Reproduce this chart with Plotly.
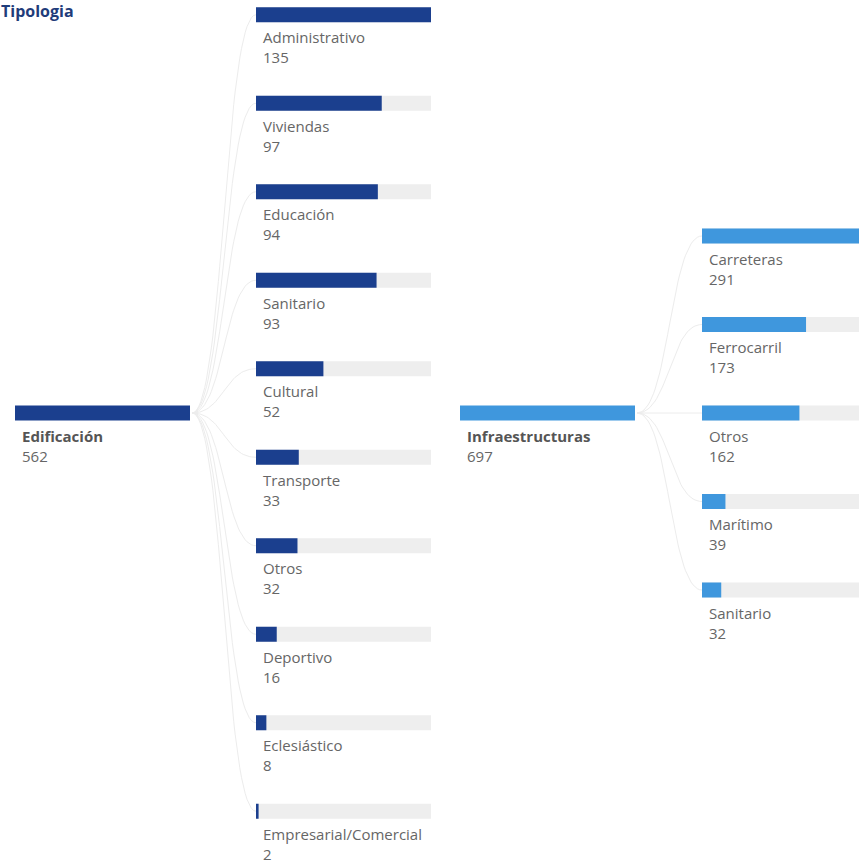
import numpy as np
import plotly.graph_objects as go

# ---- data ----
title_text = "Tipologia"
roots = ["Edificación", "Infraestructuras"]
root_values = [562, 697]
edif_cats = ["Administrativo", "Viviendas", "Educación", "Sanitario", "Cultural",
             "Transporte", "Otros", "Deportivo", "Eclesiástico", "Empresarial/Comercial"]
edif_vals = [135, 97, 94, 93, 52, 33, 32, 16, 8, 2]
infra_cats = ["Carreteras", "Ferrocarril", "Otros", "Marítimo", "Sanitario"]
infra_vals = [291, 173, 162, 39, 32]

# ---- layout constants ----
W, H = 859, 864
BAR_LEN = 175
BAR_H = 15
ROW = 88.5
ROOT_TOP = 405.5
ROOT_X = [15, 460]
CHILD_X = [256, 702]
COLORS = ["#1B3F8E", "#3F97DD"]
TRACK = "#EEEEEE"
TEXT = "#666666"
FONT = "Segoe UI, Open Sans, sans-serif"
FS = 15

fig = go.Figure()
annotations = []

trees = [(roots[0], root_values[0], edif_cats, edif_vals),
         (roots[1], root_values[1], infra_cats, infra_vals)]

for t, (rname, rval, cats, vals) in enumerate(trees):
    color = COLORS[t]
    rx, cx = ROOT_X[t], CHILD_X[t]
    n = len(cats)
    root_c = ROOT_TOP + BAR_H / 2
    child_tops = [ROOT_TOP + (i - (n - 1) / 2) * ROW for i in range(n)]
    child_c = [y + BAR_H / 2 for y in child_tops]

    # connectors (cubic bezier)
    xs, ys = [], []
    s = np.linspace(0, 1, 40)
    x0, x3 = rx + BAR_LEN + 2, cx
    for yc in child_c:
        p0 = np.array([x0, root_c]); p1 = np.array([(x0 + x3) / 2, root_c])
        p2 = np.array([(x0 + x3) / 2, yc]); p3 = np.array([x3, yc])
        pts = ((1 - s) ** 3)[:, None] * p0 + (3 * (1 - s) ** 2 * s)[:, None] * p1 \
            + (3 * (1 - s) * s ** 2)[:, None] * p2 + (s ** 3)[:, None] * p3
        xs += list(pts[:, 0]) + [None]
        ys += list(pts[:, 1]) + [None]
    fig.add_trace(go.Scatter(x=xs, y=ys, mode="lines",
                             line=dict(color="#ECECEC", width=1),
                             hoverinfo="skip", showlegend=False))

    # root bar
    fig.add_trace(go.Bar(y=[root_c], x=[BAR_LEN * rval / rval], base=[rx],
                         orientation="h", width=BAR_H, marker_color=color,
                         marker_line_width=0, showlegend=False,
                         hovertemplate=f"{rname}: {rval}<extra></extra>"))
    annotations.append(dict(x=rx + 5.5, y=root_c + 33, align="left",
                            text=f"<b><span style='color:#555555'>{rname}</span></b><br>{rval}",
                            font=dict(size=FS, color=TEXT, family=FONT)))

    # child tracks + bars
    m = max(vals)
    fig.add_trace(go.Bar(y=child_c, x=[BAR_LEN] * n, base=[cx] * n,
                         orientation="h", width=BAR_H, marker_color=TRACK,
                         marker_line_width=0, showlegend=False, hoverinfo="skip"))
    fig.add_trace(go.Bar(y=child_c, x=[BAR_LEN * v / m for v in vals], base=[cx] * n,
                         orientation="h", width=BAR_H, marker_color=color,
                         marker_line_width=0, showlegend=False,
                         customdata=cats,
                         hovertemplate="%{customdata}: %{x}<extra></extra>"))
    for c, v, yc in zip(cats, vals, child_c):
        annotations.append(dict(x=cx + 5.5, y=yc + 32.5, align="left",
                                text=f"{c}<br>{v}",
                                font=dict(size=FS, color=TEXT, family=FONT)))

for a in annotations:
    a.update(xref="x", yref="y", xanchor="left", yanchor="middle",
             showarrow=False, borderpad=0)

annotations.append(dict(x=-1 / W, y=1 - 10.5 / H, xref="paper", yref="paper",
                        xanchor="left", yanchor="middle",
                        showarrow=False, text=f"<b>{title_text}</b>",
                        font=dict(size=16, color="#1F3C7A", family=FONT)))

fig.update_layout(
    width=W, height=H, margin=dict(l=0, r=0, t=0, b=0),
    paper_bgcolor="white", plot_bgcolor="white",
    barmode="overlay",
    xaxis=dict(range=[0, W], visible=False, fixedrange=True),
    yaxis=dict(range=[H, 0], visible=False, fixedrange=True),
    annotations=annotations,
)

fig.write_html("out.html")
